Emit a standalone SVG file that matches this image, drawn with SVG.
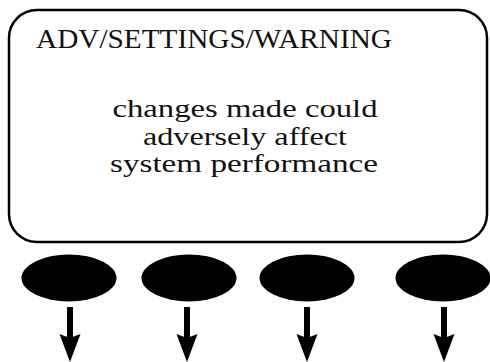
<svg xmlns="http://www.w3.org/2000/svg" width="490" height="362" viewBox="0 0 490 362">
<style>
.frame{fill:#fff;stroke:#000;stroke-width:2.5}
.btn{fill:#000}
.t{font-family:"Liberation Serif","DejaVu Serif",serif;fill:#111}
.title{font-size:27px}
.msg{font-size:26px;text-anchor:middle}
.shaft{stroke:#000;stroke-width:6}
</style>
<defs>
<polygon id="head" points="-10.5,0 0,28 10.5,0 0,4"/>
</defs>
<g id="screen">
<rect class="frame" x="9" y="10" width="478" height="232" rx="28" ry="28"/>
<text class="t title" x="36" y="48" textLength="356" lengthAdjust="spacingAndGlyphs">ADV/SETTINGS/WARNING</text>
<text class="t msg" x="245" y="117" textLength="265" lengthAdjust="spacingAndGlyphs">changes made could</text>
<text class="t msg" x="245" y="145" textLength="204" lengthAdjust="spacingAndGlyphs">adversely affect</text>
<text class="t msg" x="244" y="172" textLength="268" lengthAdjust="spacingAndGlyphs">system performance</text>
</g>
<g id="button1"><ellipse class="btn" cx="69" cy="278" rx="47.5" ry="23.5"/></g>
<g id="button2"><ellipse class="btn" cx="189" cy="278" rx="47.5" ry="23.5"/></g>
<g id="button3"><ellipse class="btn" cx="307" cy="278" rx="47.5" ry="23.5"/></g>
<g id="button4"><ellipse class="btn" cx="443" cy="278" rx="47.5" ry="23.5"/></g>
<g id="connectors">
<line class="shaft" x1="70" y1="307" x2="70" y2="338"/><use href="#head" x="70" y="334"/>
<line class="shaft" x1="187" y1="307" x2="187" y2="338"/><use href="#head" x="187" y="334"/>
<line class="shaft" x1="307" y1="307" x2="307" y2="338"/><use href="#head" x="307" y="334"/>
<line class="shaft" x1="444" y1="307" x2="444" y2="338"/><use href="#head" x="444" y="334"/>
</g>
</svg>
